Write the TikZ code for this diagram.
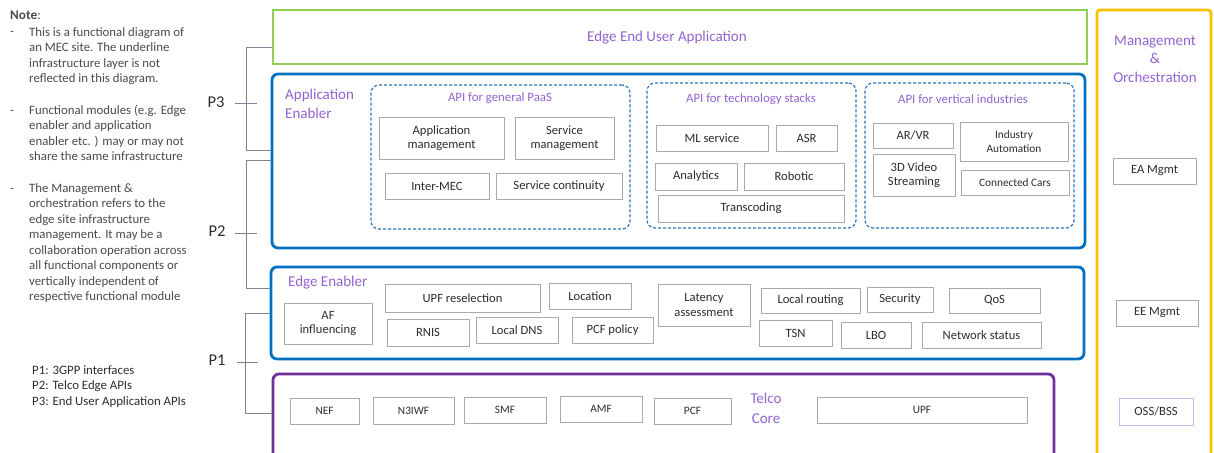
\documentclass[tikz,border=0pt]{standalone}
\usepackage{fontspec}
\setmainfont{Carlito}
\definecolor{cgreen}{RGB}{146,208,80}
\definecolor{cblue}{RGB}{0,112,192}
\definecolor{cdash}{RGB}{46,117,182}
\definecolor{cpurp}{RGB}{112,48,160}
\definecolor{corange}{RGB}{255,192,0}
\definecolor{ctxtp}{RGB}{146,100,210}
\definecolor{cgray}{RGB}{170,170,170}
\definecolor{ctxt}{RGB}{45,45,45}
\definecolor{cnote}{RGB}{75,75,75}
\definecolor{cbrk}{RGB}{130,130,150}
\definecolor{clpurp}{RGB}{205,185,240}
\newcommand\ftxt{\fontsize{12.8}{15.5}\selectfont}
\newcommand\fbx{\fontsize{12.6}{14.5}\selectfont}
\newcommand\fsm{\fontsize{11.3}{14}\selectfont}
\newcommand\fsec{\fontsize{15}{18.5}\selectfont}
\newcommand\fnum{\fontsize{16.5}{19}\selectfont}
% [opts]{name}{x1}{y1}{x2}{y2}{text}
\newcommand\rbox[7][]{\node[#1,minimum width={(#5-#3)*1pt},minimum height={(#6-#4)*1pt}] (#2) at ({(#3+#5)/2},{(#4+#6)/2}) {#7};}
\begin{document}
\begin{tikzpicture}[x=1pt,y=-1pt,
  frame/.style={line width=2.8pt,inner sep=0pt},
  gbox/.style={draw=cgray,line width=1pt,inner sep=0pt,text=ctxt,font=\fbx,align=center},
  sbox/.style={gbox,font=\fsm},
  dbox/.style={draw=cdash,line width=1.2pt,dash pattern=on 3pt off 2pt,rounded corners=8pt,inner sep=0pt},
  sect/.style={text=ctxtp,font=\fsec,inner sep=0pt},
  apit/.style={text=ctxtp,font=\ftxt,inner sep=0pt},
  note/.style={text=cnote,font=\ftxt,inner sep=0pt,align=left,anchor=base west},
  brk/.style={draw=cbrk,line width=0.9pt},
  plab/.style={text=ctxt,font=\fnum,inner sep=0pt}]
\clip (0,0) rectangle (1214,452);
\fill[white] (0,0) rectangle (1214,452);

% frames
\rbox[frame,draw=cgreen]{ueapp}{273}{10}{1087}{64}{}
\rbox[frame,draw=cblue,rounded corners=6pt]{appen}{272}{74}{1085}{248}{}
\rbox[frame,draw=cblue,rounded corners=6pt]{edgeen}{271}{267}{1084}{359}{}
\rbox[frame,draw=cpurp,rounded corners=6pt]{telco}{273}{374}{1054}{480}{}
\rbox[frame,draw=corange,rounded corners=3pt]{mano}{1097}{10}{1211}{480}{}

% section labels
\node[sect] (ueappl) at (667,38) {Edge End User Application};
\node[sect,align=left,anchor=west] (appenl) at (285,104) {Application\\Enabler};
\node[sect,anchor=west] (edgeenl) at (288,283) {Edge Enabler};
\node[sect,align=center,font=\fontsize{15}{20}\selectfont] (telcol) at (766,408) {Telco\\Core};
\node[sect,align=center] (manol) at (1155,59) {Management\\\&\\Orchestration};

% dashed groups
\rbox[dbox]{paas}{371}{85}{630}{229}{}
\rbox[dbox]{tech}{647}{83}{856}{228}{}
\rbox[dbox]{vert}{865}{83}{1074}{228}{}
\node[apit] (paasl) at (500,98) {API for general PaaS};
\node[apit] (techl) at (751,99) {API for technology stacks};
\node[apit] (vertl) at (963,99) {API for vertical industries};

% application enabler boxes
\rbox[gbox]{appmgmt}{379}{117}{504}{159}{Application\\management}
\rbox[gbox]{svcmgmt}{515}{117}{614}{159}{Service\\management}
\rbox[gbox]{intermec}{385}{173}{489}{199}{Inter-MEC}
\rbox[gbox]{svccont}{496}{173}{622}{199}{Service continuity}
\rbox[gbox]{ml}{656}{125}{768}{151}{ML service}
\rbox[gbox]{asr}{776}{125}{837}{151}{ASR}
\rbox[gbox]{analytics}{655}{163}{737}{190}{Analytics}
\rbox[gbox]{robotic}{744}{163}{844}{190}{Robotic}
\rbox[gbox]{transc}{658}{195}{844}{222}{Transcoding}
\rbox[gbox]{arvr}{873}{123}{953}{148}{AR/VR}
\rbox[sbox]{indaut}{960}{122}{1068}{161}{Industry\\Automation}
\rbox[gbox]{video}{873}{154}{955}{196}{3D Video\\Streaming}
\rbox[sbox]{cars}{961}{170}{1069}{195}{Connected Cars}

% edge enabler boxes
\rbox[gbox]{af}{284}{303}{372}{344}{AF\\influencing}
\rbox[gbox]{upfre}{385}{284}{540}{312}{UPF reselection}
\rbox[gbox]{loc}{549}{283}{631}{309}{Location}
\rbox[gbox]{rnis}{387}{319}{469}{346}{RNIS}
\rbox[gbox]{dns}{476}{317}{558}{343}{Local DNS}
\rbox[gbox]{pcfpol}{572}{317}{653}{343}{PCF policy}
\rbox[gbox]{lat}{658}{284}{750}{326}{Latency\\assessment}
\rbox[gbox]{lroute}{761}{288}{860}{313}{Local routing}
\rbox[gbox]{secu}{867}{287}{933}{312}{Security}
\rbox[gbox]{qos}{949}{288}{1040}{313}{QoS}
\rbox[gbox]{tsn}{759}{320}{832}{346}{TSN}
\rbox[gbox]{lbo}{841}{322}{911}{348}{LBO}
\rbox[gbox]{netst}{922}{322}{1041}{348}{Network status}

% telco core boxes
\rbox[gbox,font=\fsm]{nef}{290}{398}{359}{424}{NEF}
\rbox[gbox,font=\fsm]{n3iwf}{373}{397}{454}{424}{N3IWF}
\rbox[gbox,font=\fsm]{smf}{464}{397}{546}{423}{SMF}
\rbox[gbox,font=\fsm]{amf}{560}{396}{642}{422}{AMF}
\rbox[gbox,font=\fsm]{pcf}{654}{398}{731}{424}{PCF}
\rbox[gbox,font=\fsm]{upf}{817}{397}{1027}{423}{UPF}

% management boxes
\rbox[gbox]{eam}{1113}{158}{1196}{184}{EA Mgmt}
\rbox[gbox]{eem}{1116}{300}{1198}{326}{EE Mgmt}
\rbox[gbox,draw=clpurp]{oss}{1119}{398}{1193}{425}{OSS/BSS}

% brackets
\coordinate (p3a) at (246,47);
\coordinate (p3b) at (246,150);
\coordinate (p3t) at (246,103);
\draw[brk] (p3a -| ueapp.west) -- (p3a) -- (p3b) -- (p3b -| appen.west);
\draw[brk] ([xshift=-11pt]p3t) -- ([xshift=11pt]p3t);
\node[plab] (p3l) at (216,102) {P3};

\coordinate (p2a) at (246,160);
\coordinate (p2b) at (246,288);
\coordinate (p2t) at (246,233);
\draw[brk] (p2a -| appen.west) -- (p2a) -- (p2b) -- (p2b -| edgeen.west);
\draw[brk] ([xshift=-11pt]p2t) -- ([xshift=11pt]p2t);
\node[plab] (p2l) at (217,231) {P2};

\coordinate (p1a) at (245,313);
\coordinate (p1b) at (245,413);
\coordinate (p1t) at (245,362);
\draw[brk] (p1a -| edgeen.west) -- (p1a) -- (p1b) -- (p1b -| telco.west);
\draw[brk] ([xshift=-8pt]p1t) -- ([xshift=13pt]p1t);
\node[plab] (p1l) at (217,360) {P1};

% notes (anchor base = baseline of the last line)
\node[note,font=\fontsize{13.3}{16}\selectfont] (notehd) at (10,20) {\textbf{Note}:};
\node[note] (d1) at (10,36) {-};
\node[note] (n1) at (29,82.5) {This is a functional diagram of\\an MEC site. The underline\\infrastructure layer is not\\reflected in this diagram.};
\node[note] (d2) at (10,114) {-};
\node[note] (n2) at (29,160.5) {Functional modules (e.g. Edge\\enabler and application\\enabler etc. ) may or may not\\share the same infrastructure};
\node[note] (d3) at (10,192) {-};
\node[note] (n3) at (29,300.5) {The Management \&\\orchestration refers to the\\edge site infrastructure\\management. It may be a\\collaboration operation across\\all functional components or\\vertically independent of\\respective functional module};
\node[note,text=ctxt] (plist) at (32,405) {P1: 3GPP interfaces\\P2: Telco Edge APIs\\P3: End User Application APIs};
\end{tikzpicture}
\end{document}
